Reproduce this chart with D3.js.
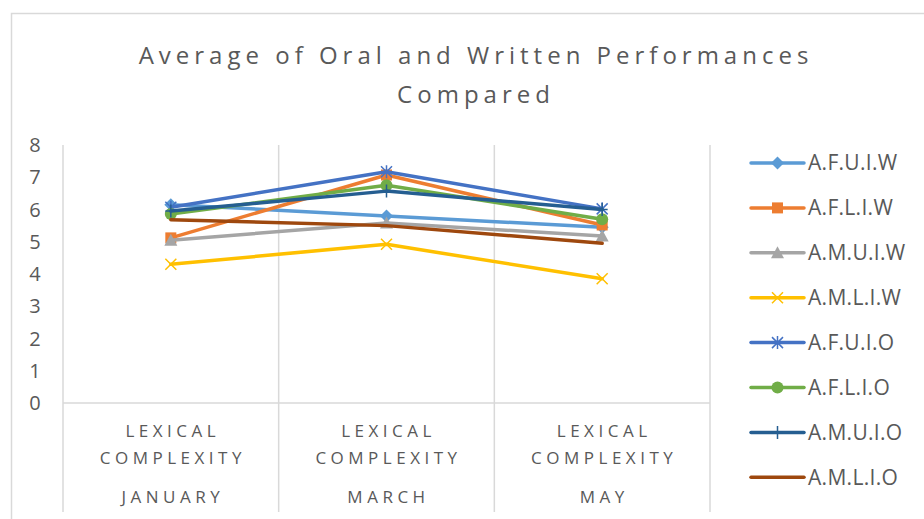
<!DOCTYPE html>
<meta charset="utf-8">
<head>
<title>Average of Oral and Written Performances Compared</title>
<script src="https://cdn.jsdelivr.net/npm/d3@7"></script>
<style>
  body { margin: 0; background: #fff; }
  text { font-family: "Open Sans", "DejaVu Sans", sans-serif; fill: #595959; }
</style>
</head>
<body>
<div id="chart"></div>
<script>
  // data
  var months = ["JANUARY", "MARCH", "MAY"];
  var catLines = ["LEXICAL", "COMPLEXITY"];
  var seriesNames = ["A.F.U.I.W", "A.F.L.I.W", "A.M.U.I.W", "A.M.L.I.W",
                     "A.F.U.I.O", "A.F.L.I.O", "A.M.U.I.O", "A.M.L.I.O"];
  var afuiw = [6.15, 5.8, 5.45];
  var afliw = [5.12, 7.07, 5.52];
  var amuiw = [5.05, 5.58, 5.18];
  var amliw = [4.3, 4.92, 3.85];
  var afuio = [6.07, 7.17, 6.02];
  var aflio = [5.86, 6.75, 5.7];
  var amuio = [5.95, 6.57, 6.0];
  var amlio = [5.68, 5.5, 4.95];
  var yTicks = [0, 1, 2, 3, 4, 5, 6, 7, 8];

  var allValues = [afuiw, afliw, amuiw, amliw, afuio, aflio, amuio, amlio];
  var colors = ["#5B9BD5", "#ED7D31", "#A5A5A5", "#FFC000", "#4472C4", "#70AD47", "#255E91", "#9E480E"];
  var markers = ["diamond", "square", "triangle", "x", "star", "circle", "plus", "none"];

  var W = 924, H = 519;
  var svg = d3.select("#chart").append("svg")
    .attr("width", W).attr("height", H);

  // chart border
  svg.append("path")
    .attr("d", "M11.5,530 V13.5 H940")
    .attr("fill", "none").attr("stroke", "#d9d9d9").attr("stroke-width", 1.5);

  // title
  var title = svg.append("text")
    .attr("text-anchor", "middle")
    .style("font-size", "24px")
    .style("letter-spacing", "5px");
  title.append("tspan").attr("x", 476).attr("y", 64).text("Average of Oral and Written Performances");
  title.append("tspan").attr("x", 476).attr("y", 103).text("Compared");

  // scales
  var x = d3.scaleBand().domain(months).range([63, 710]).padding(0);
  var y = d3.scaleLinear().domain([0, 8]).range([403, 145]);

  // vertical gridlines at category boundaries
  var bounds = months.map(function(m) { return x(m); }).concat([x.range()[1]]);
  svg.selectAll(".vgrid").data(bounds).enter().append("line")
    .attr("x1", function(d) { return d; }).attr("x2", function(d) { return d; })
    .attr("y1", y(8)).attr("y2", 512)
    .attr("stroke", "#d9d9d9").attr("stroke-width", 1.5);

  // horizontal axis
  svg.append("line")
    .attr("x1", x.range()[0]).attr("x2", x.range()[1])
    .attr("y1", y(0)).attr("y2", y(0))
    .attr("stroke", "#d9d9d9").attr("stroke-width", 1.5);

  // y tick labels
  svg.selectAll(".ytick").data(yTicks).enter().append("text")
    .attr("x", 35).attr("y", function(d) { return y(d); })
    .attr("text-anchor", "middle").attr("dy", "0.35em")
    .style("font-size", "20px")
    .text(function(d) { return d; });

  // category labels
  months.forEach(function(m) {
    var cx = x(m) + x.bandwidth() / 2 + 2;
    catLines.forEach(function(t, i) {
      svg.append("text")
        .attr("x", cx).attr("y", 437 + i * 27)
        .attr("text-anchor", "middle")
        .style("font-size", "17px").style("letter-spacing", "4.5px")
        .text(t);
    });
    svg.append("text")
      .attr("x", cx).attr("y", 503)
      .attr("text-anchor", "middle")
      .style("font-size", "17px").style("letter-spacing", "4.5px")
      .text(m);
  });

  // marker drawing
  function drawMarker(g, type, color, cx, cy) {
    var s = 5.5;
    if (type == "diamond") {
      g.append("path").attr("d", "M" + cx + "," + (cy - s - 1) + " L" + (cx + s + 1) + "," + cy + " L" + cx + "," + (cy + s + 1) + " L" + (cx - s - 1) + "," + cy + "Z")
        .attr("fill", color);
    } else if (type == "square") {
      g.append("rect").attr("x", cx - s).attr("y", cy - s).attr("width", 2 * s).attr("height", 2 * s).attr("fill", color);
    } else if (type == "triangle") {
      g.append("path").attr("d", "M" + cx + "," + (cy - s - 1) + " L" + (cx + s + 1) + "," + (cy + s) + " L" + (cx - s - 1) + "," + (cy + s) + "Z")
        .attr("fill", color);
    } else if (type == "x") {
      g.append("path").attr("d", "M" + (cx - s) + "," + (cy - s) + " L" + (cx + s) + "," + (cy + s) + " M" + (cx + s) + "," + (cy - s) + " L" + (cx - s) + "," + (cy + s))
        .attr("stroke", color).attr("stroke-width", 1.5);
    } else if (type == "star") {
      g.append("path").attr("d", "M" + (cx - s) + "," + (cy - s) + " L" + (cx + s) + "," + (cy + s) + " M" + (cx + s) + "," + (cy - s) + " L" + (cx - s) + "," + (cy + s) + " M" + cx + "," + (cy - s - 1) + " L" + cx + "," + (cy + s + 1))
        .attr("stroke", color).attr("stroke-width", 1.5);
    } else if (type == "circle") {
      g.append("circle").attr("cx", cx).attr("cy", cy).attr("r", s + 0.5).attr("fill", color);
    } else if (type == "plus") {
      g.append("path").attr("d", "M" + cx + "," + (cy - s - 1) + " L" + cx + "," + (cy + s + 1) + " M" + (cx - s) + "," + cy + " L" + (cx + s) + "," + cy)
        .attr("stroke", color).attr("stroke-width", 1.5);
    }
  }

  var line = d3.line()
    .x(function(d, i) { return x(months[i]) + x.bandwidth() / 2; })
    .y(function(d) { return y(d); });

  // series
  allValues.forEach(function(vals, k) {
    var g = svg.append("g");
    g.append("path").datum(vals)
      .attr("d", line)
      .attr("fill", "none")
      .attr("stroke", colors[k]).attr("stroke-width", 3.5)
      .attr("stroke-linejoin", "round").attr("stroke-linecap", "round");
    vals.forEach(function(v, i) {
      drawMarker(g, markers[k], colors[k], x(months[i]) + x.bandwidth() / 2, y(v));
    });
  });

  // legend
  var legend = svg.append("g");
  seriesNames.forEach(function(name, k) {
    var ly = 163 + k * 44.9;
    legend.append("line")
      .attr("x1", 751).attr("x2", 804).attr("y1", ly).attr("y2", ly)
      .attr("stroke", colors[k]).attr("stroke-width", 3.5).attr("stroke-linecap", "round");
    drawMarker(legend, markers[k], colors[k], 777.5, ly);
    legend.append("text")
      .attr("x", 808).attr("y", ly).attr("dy", "0.35em")
      .style("font-size", "21px").style("letter-spacing", "0.3px")
      .text(name);
  });
</script>
</body>
